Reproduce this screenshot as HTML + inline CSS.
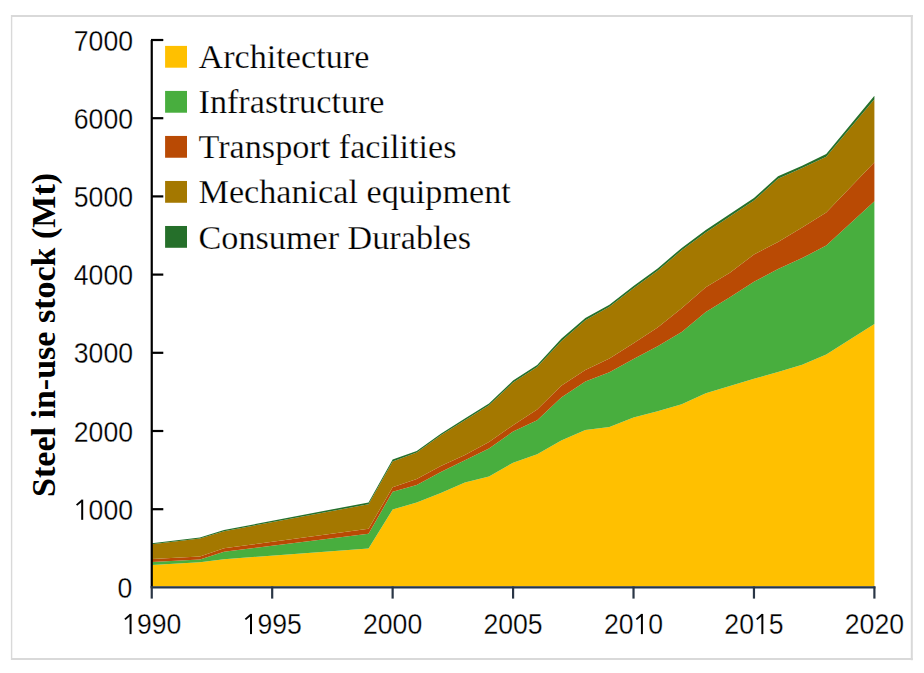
<!DOCTYPE html>
<html><head><meta charset="utf-8"><style>
html,body{margin:0;padding:0;background:#fff;}
body{width:924px;height:673px;overflow:hidden;position:relative;}
svg{position:absolute;left:0;top:0;}
</style></head><body>
<svg width="924" height="673" viewBox="0 0 924 673">
<rect x="0" y="0" width="924" height="673" fill="#fff"/>
<line x1="11.6" y1="15" x2="11.6" y2="660" stroke="#D9D9D9" stroke-width="1.4"/>
<line x1="11" y1="16" x2="912.8" y2="16" stroke="#D9D9D9" stroke-width="1.8"/>
<line x1="911.8" y1="15" x2="911.8" y2="660.2" stroke="#D9D9D9" stroke-width="2"/>
<line x1="11" y1="659.1" x2="912.8" y2="659.1" stroke="#D9D9D9" stroke-width="2"/>
<polygon points="151.75,564.90 199.93,562.20 224.01,559.20 368.54,548.40 392.63,509.50 416.72,502.40 440.81,493.00 464.90,482.60 488.99,476.40 513.08,462.70 537.16,454.30 561.25,440.50 585.34,430.00 609.43,427.00 633.52,417.50 657.61,411.20 681.69,404.30 705.78,393.20 729.87,386.10 753.96,378.80 778.05,372.10 802.13,364.80 826.22,354.60 874.40,323.90 874.40,586.40 826.22,586.40 802.13,586.40 778.05,586.40 753.96,586.40 729.87,586.40 705.78,586.40 681.69,586.40 657.61,586.40 633.52,586.40 609.43,586.40 585.34,586.40 561.25,586.40 537.16,586.40 513.08,586.40 488.99,586.40 464.90,586.40 440.81,586.40 416.72,586.40 392.63,586.40 368.54,586.40 224.01,586.40 199.93,586.40 151.75,586.40" fill="#FFC000"/>
<polygon points="151.75,562.10 199.93,559.60 224.01,551.80 368.54,533.80 392.63,491.80 416.72,485.00 440.81,472.00 464.90,460.30 488.99,448.50 513.08,431.50 537.16,420.20 561.25,397.50 585.34,381.50 609.43,372.30 633.52,359.00 657.61,346.30 681.69,332.10 705.78,312.00 729.87,297.20 753.96,281.80 778.05,269.00 802.13,258.10 826.22,245.60 874.40,201.30 874.40,323.90 826.22,354.60 802.13,364.80 778.05,372.10 753.96,378.80 729.87,386.10 705.78,393.20 681.69,404.30 657.61,411.20 633.52,417.50 609.43,427.00 585.34,430.00 561.25,440.50 537.16,454.30 513.08,462.70 488.99,476.40 464.90,482.60 440.81,493.00 416.72,502.40 392.63,509.50 368.54,548.40 224.01,559.20 199.93,562.20 151.75,564.90" fill="#48AE3E"/>
<polygon points="151.75,559.10 199.93,556.60 224.01,548.30 368.54,528.80 392.63,487.20 416.72,479.00 440.81,466.00 464.90,455.00 488.99,442.00 513.08,425.20 537.16,409.50 561.25,385.80 585.34,370.00 609.43,358.50 633.52,343.20 657.61,327.50 681.69,308.30 705.78,287.20 729.87,272.70 753.96,254.50 778.05,242.00 802.13,227.50 826.22,212.40 874.40,162.30 874.40,201.30 826.22,245.60 802.13,258.10 778.05,269.00 753.96,281.80 729.87,297.20 705.78,312.00 681.69,332.10 657.61,346.30 633.52,359.00 609.43,372.30 585.34,381.50 561.25,397.50 537.16,420.20 513.08,431.50 488.99,448.50 464.90,460.30 440.81,472.00 416.72,485.00 392.63,491.80 368.54,533.80 224.01,551.80 199.93,559.60 151.75,562.10" fill="#B94A04"/>
<polygon points="151.75,544.25 199.93,538.61 224.01,531.13 368.54,504.22 392.63,461.39 416.72,452.59 440.81,435.37 464.90,420.28 488.99,405.37 513.08,382.61 537.16,367.07 561.25,341.16 585.34,320.15 609.43,306.75 633.52,288.22 657.61,270.77 681.69,250.31 705.78,232.48 729.87,216.49 753.96,200.49 778.05,178.85 802.13,168.07 826.22,156.71 874.40,99.26 874.40,162.30 826.22,212.40 802.13,227.50 778.05,242.00 753.96,254.50 729.87,272.70 705.78,287.20 681.69,308.30 657.61,327.50 633.52,343.20 609.43,358.50 585.34,370.00 561.25,385.80 537.16,409.50 513.08,425.20 488.99,442.00 464.90,455.00 440.81,466.00 416.72,479.00 392.63,487.20 368.54,528.80 224.01,548.30 199.93,556.60 151.75,559.10" fill="#A47800"/>
<polygon points="151.75,543.35 199.93,537.59 224.01,530.07 368.54,502.38 392.63,459.41 416.72,451.01 440.81,433.63 464.90,418.52 488.99,403.43 513.08,380.59 537.16,364.93 561.25,338.84 585.34,318.05 609.43,304.65 633.52,285.98 657.61,268.43 681.69,247.89 705.78,230.12 729.87,214.11 753.96,197.91 778.05,176.35 802.13,165.73 826.22,153.89 874.40,95.74 874.40,99.26 826.22,156.71 802.13,168.07 778.05,178.85 753.96,200.49 729.87,216.49 705.78,232.48 681.69,250.31 657.61,270.77 633.52,288.22 609.43,306.75 585.34,320.15 561.25,341.16 537.16,367.07 513.08,382.61 488.99,405.37 464.90,420.28 440.81,435.37 416.72,452.59 392.63,461.39 368.54,504.22 224.01,531.13 199.93,538.61 151.75,544.25" fill="#256F2A"/>
<line x1="151.75" y1="40" x2="151.75" y2="587.4" stroke="#000" stroke-width="2.2"/>
<text x="132.2" y="598.00" text-anchor="end" font-family="Liberation Sans" font-size="30.1" stroke="#fff" stroke-width="0.3" textLength="14.8" lengthAdjust="spacingAndGlyphs">0</text>
<line x1="151" y1="509.20" x2="163.3" y2="509.20" stroke="#000" stroke-width="2.2"/>
<text x="133" y="519.80" text-anchor="end" font-family="Liberation Sans" font-size="30.1" stroke="#fff" stroke-width="0.3" textLength="59.2" lengthAdjust="spacingAndGlyphs"><tspan fill="#fff" stroke="none">1</tspan>000</text>
<line x1="151" y1="431.00" x2="163.3" y2="431.00" stroke="#000" stroke-width="2.2"/>
<text x="133" y="441.60" text-anchor="end" font-family="Liberation Sans" font-size="30.1" stroke="#fff" stroke-width="0.3" textLength="59.2" lengthAdjust="spacingAndGlyphs">2000</text>
<line x1="151" y1="352.80" x2="163.3" y2="352.80" stroke="#000" stroke-width="2.2"/>
<text x="133" y="363.40" text-anchor="end" font-family="Liberation Sans" font-size="30.1" stroke="#fff" stroke-width="0.3" textLength="59.2" lengthAdjust="spacingAndGlyphs">3000</text>
<line x1="151" y1="274.60" x2="163.3" y2="274.60" stroke="#000" stroke-width="2.2"/>
<text x="133" y="285.20" text-anchor="end" font-family="Liberation Sans" font-size="30.1" stroke="#fff" stroke-width="0.3" textLength="59.2" lengthAdjust="spacingAndGlyphs">4000</text>
<line x1="151" y1="196.40" x2="163.3" y2="196.40" stroke="#000" stroke-width="2.2"/>
<text x="133" y="207.00" text-anchor="end" font-family="Liberation Sans" font-size="30.1" stroke="#fff" stroke-width="0.3" textLength="59.2" lengthAdjust="spacingAndGlyphs">5000</text>
<line x1="151" y1="118.20" x2="163.3" y2="118.20" stroke="#000" stroke-width="2.2"/>
<text x="133" y="128.80" text-anchor="end" font-family="Liberation Sans" font-size="30.1" stroke="#fff" stroke-width="0.3" textLength="59.2" lengthAdjust="spacingAndGlyphs">6000</text>
<line x1="151" y1="40.00" x2="163.3" y2="40.00" stroke="#000" stroke-width="2.2"/>
<text x="133" y="50.60" text-anchor="end" font-family="Liberation Sans" font-size="30.1" stroke="#fff" stroke-width="0.3" textLength="59.2" lengthAdjust="spacingAndGlyphs">7000</text>
<line x1="150.7" y1="587.4" x2="875.4" y2="587.4" stroke="#23364F" stroke-width="2.2"/>
<line x1="151.75" y1="586.5" x2="151.75" y2="598.6" stroke="#2A3646" stroke-width="2.2"/>
<text x="151.75" y="634.1" text-anchor="middle" font-family="Liberation Sans" font-size="30.1" stroke="#fff" stroke-width="0.3" textLength="59.2" lengthAdjust="spacingAndGlyphs"><tspan fill="#fff" stroke="none">1</tspan>990</text>
<line x1="272.19" y1="586.5" x2="272.19" y2="598.6" stroke="#2A3646" stroke-width="2.2"/>
<text x="272.19" y="634.1" text-anchor="middle" font-family="Liberation Sans" font-size="30.1" stroke="#fff" stroke-width="0.3" textLength="59.2" lengthAdjust="spacingAndGlyphs"><tspan fill="#fff" stroke="none">1</tspan>995</text>
<line x1="392.63" y1="586.5" x2="392.63" y2="598.6" stroke="#2A3646" stroke-width="2.2"/>
<text x="392.63" y="634.1" text-anchor="middle" font-family="Liberation Sans" font-size="30.1" stroke="#fff" stroke-width="0.3" textLength="59.2" lengthAdjust="spacingAndGlyphs">2000</text>
<line x1="513.08" y1="586.5" x2="513.08" y2="598.6" stroke="#2A3646" stroke-width="2.2"/>
<text x="513.08" y="634.1" text-anchor="middle" font-family="Liberation Sans" font-size="30.1" stroke="#fff" stroke-width="0.3" textLength="59.2" lengthAdjust="spacingAndGlyphs">2005</text>
<line x1="633.52" y1="586.5" x2="633.52" y2="598.6" stroke="#2A3646" stroke-width="2.2"/>
<text x="633.52" y="634.1" text-anchor="middle" font-family="Liberation Sans" font-size="30.1" stroke="#fff" stroke-width="0.3" textLength="59.2" lengthAdjust="spacingAndGlyphs">20<tspan fill="#fff" stroke="none">1</tspan>0</text>
<line x1="753.96" y1="586.5" x2="753.96" y2="598.6" stroke="#2A3646" stroke-width="2.2"/>
<text x="753.96" y="634.1" text-anchor="middle" font-family="Liberation Sans" font-size="30.1" stroke="#fff" stroke-width="0.3" textLength="59.2" lengthAdjust="spacingAndGlyphs">20<tspan fill="#fff" stroke="none">1</tspan>5</text>
<line x1="874.40" y1="586.5" x2="874.40" y2="598.6" stroke="#2A3646" stroke-width="2.2"/>
<text x="874.40" y="634.1" text-anchor="middle" font-family="Liberation Sans" font-size="30.1" stroke="#fff" stroke-width="0.3" textLength="59.2" lengthAdjust="spacingAndGlyphs">2020</text>
<path d="M81.20,499.60H83.20V519.80H81.20Z" fill="#000"/>
<line x1="82.00" y1="500.50" x2="76.60" y2="505.10" stroke="#000" stroke-width="1.9"/>
<path d="M129.55,613.90H131.55V634.10H129.55Z" fill="#000"/>
<line x1="130.35" y1="614.80" x2="124.95" y2="619.40" stroke="#000" stroke-width="1.9"/>
<path d="M249.99,613.90H251.99V634.10H249.99Z" fill="#000"/>
<line x1="250.79" y1="614.80" x2="245.39" y2="619.40" stroke="#000" stroke-width="1.9"/>
<path d="M640.91,613.90H642.91V634.10H640.91Z" fill="#000"/>
<line x1="641.71" y1="614.80" x2="636.31" y2="619.40" stroke="#000" stroke-width="1.9"/>
<path d="M761.35,613.90H763.35V634.10H761.35Z" fill="#000"/>
<line x1="762.15" y1="614.80" x2="756.75" y2="619.40" stroke="#000" stroke-width="1.9"/>
<text transform="translate(55.4,334.9) rotate(-90)" text-anchor="middle" font-family="Liberation Serif" font-weight="bold" font-size="33" textLength="324" lengthAdjust="spacingAndGlyphs">Steel in-use stock (Mt)</text>
<rect x="165.1" y="45.90" width="21.9" height="21.8" fill="#FFC000"/>
<text x="198.5" y="68.30" font-family="Liberation Serif" font-size="34.2" stroke="#fff" stroke-width="0.25">Architecture</text>
<rect x="165.1" y="90.92" width="21.9" height="21.8" fill="#48AE3E"/>
<text x="198.5" y="113.35" font-family="Liberation Serif" font-size="34.2" stroke="#fff" stroke-width="0.25">Infrastructure</text>
<rect x="165.1" y="135.94" width="21.9" height="21.8" fill="#B94A04"/>
<text x="198.5" y="158.40" font-family="Liberation Serif" font-size="34.2" stroke="#fff" stroke-width="0.25">Transport facilities</text>
<rect x="165.1" y="180.96" width="21.9" height="21.8" fill="#A47800"/>
<text x="198.5" y="203.45" font-family="Liberation Serif" font-size="34.2" stroke="#fff" stroke-width="0.25">Mechanical equipment</text>
<rect x="165.1" y="225.98" width="21.9" height="21.8" fill="#256F2A"/>
<text x="198.5" y="248.50" font-family="Liberation Serif" font-size="34.2" stroke="#fff" stroke-width="0.25">Consumer Durables</text>
</svg>
</body></html>
